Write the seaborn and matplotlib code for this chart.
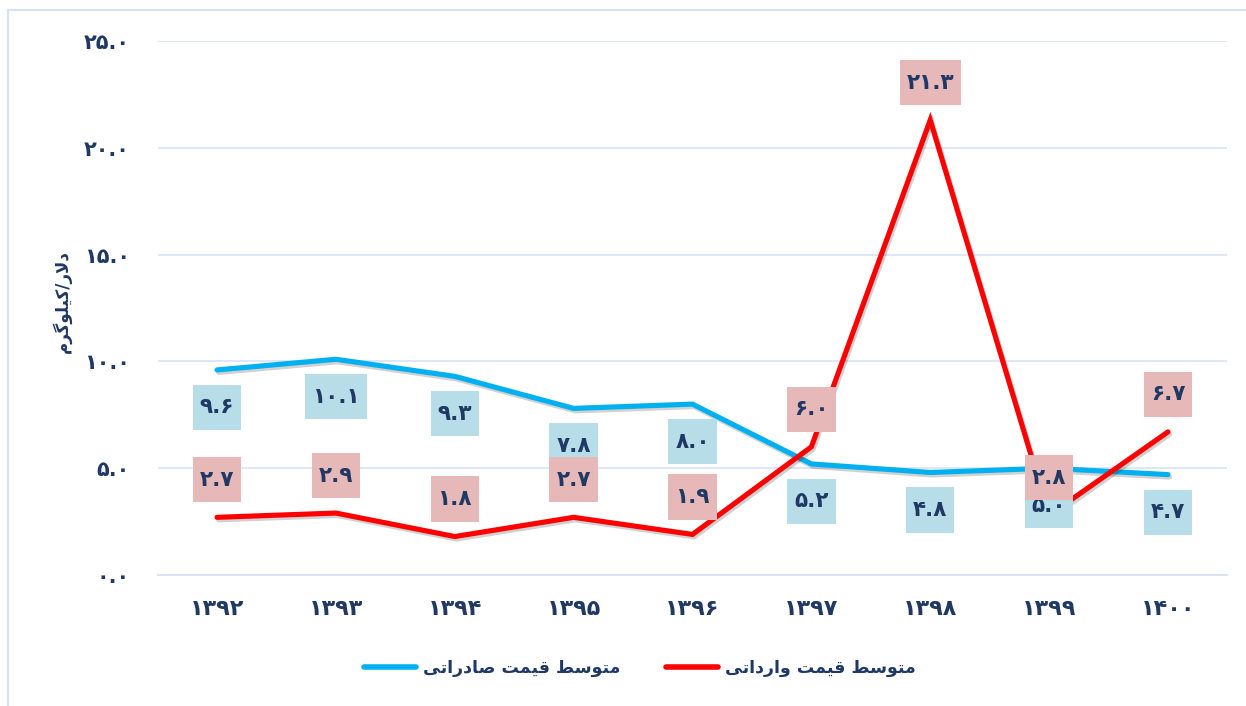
import matplotlib
matplotlib.use("Agg")
import matplotlib.pyplot as plt
import matplotlib.patheffects as pe
from matplotlib.lines import Line2D
from matplotlib.path import Path
import seaborn as sns
import pandas as pd

# ---- data ----
years = ["1392", "1393", "1394", "1395", "1396", "1397", "1398", "1399", "1400"]
export_price = [9.6, 10.1, 9.3, 7.8, 8.0, 5.2, 4.8, 5.0, 4.7]
import_price = [2.7, 2.9, 1.8, 2.7, 1.9, 6.0, 21.3, 2.8, 6.7]
export_name = "متوسط قیمت صادراتی"
import_name = "متوسط قیمت وارداتی"
y_title = "دلار/کیلوگرم"
y_ticks = [0, 5, 10, 15, 20, 25]

# ---- styling ----
NAVY = "#1F3864"
BLUE = "#00B0F0"
RED = "#FF0000"
BLUE_BOX = "#B7DDE8"
RED_BOX = "#E6B8B7"
GRID = "#D9E2F3"

FA_DIGITS = str.maketrans("0123456789", "۰۱۲۳۴۵۶۷۸۹")


def fa_num(s):
    return str(s).translate(FA_DIGITS)


# Persian letters -> (isolated, final, initial, medial) presentation forms
FORMS = {
    "ا": ("\uFE8D", "\uFE8E", None, None),
    "د": ("\uFEA9", "\uFEAA", None, None),
    "ر": ("\uFEAD", "\uFEAE", None, None),
    "و": ("\uFEED", "\uFEEE", None, None),
    "ت": ("\uFE95", "\uFE96", "\uFE97", "\uFE98"),
    "س": ("\uFEB1", "\uFEB2", "\uFEB3", "\uFEB4"),
    "ص": ("\uFEB9", "\uFEBA", "\uFEBB", "\uFEBC"),
    "ط": ("\uFEC1", "\uFEC2", "\uFEC3", "\uFEC4"),
    "ق": ("\uFED5", "\uFED6", "\uFED7", "\uFED8"),
    "ل": ("\uFEDD", "\uFEDE", "\uFEDF", "\uFEE0"),
    "م": ("\uFEE1", "\uFEE2", "\uFEE3", "\uFEE4"),
    "ک": ("\uFB8E", "\uFB8F", "\uFB90", "\uFB91"),
    "گ": ("\uFB92", "\uFB93", "\uFB94", "\uFB95"),
    "ی": ("\uFBFC", "\uFBFD", "\uFBFE", "\uFBFF"),
}


def _dual(c):
    return c in FORMS and FORMS[c][2] is not None


def rtl(text):
    """Join Persian letters into contextual forms and put them in visual order."""
    chars = list(text)
    out = []
    i, n = 0, len(chars)
    while i < n:
        c = chars[i]
        if c not in FORMS:
            out.append(c)
            i += 1
            continue
        prev = chars[i - 1] if i > 0 else None
        joins_prev = prev is not None and _dual(prev)
        if c == "ل" and i + 1 < n and chars[i + 1] == "ا":
            out.append("\uFEFC" if joins_prev else "\uFEFB")
            i += 2
            continue
        nxt = chars[i + 1] if i + 1 < n else None
        joins_next = _dual(c) and nxt in FORMS
        iso, fin, ini, med = FORMS[c]
        if joins_prev and joins_next:
            out.append(med)
        elif joins_prev:
            out.append(fin)
        elif joins_next:
            out.append(ini)
        else:
            out.append(iso)
        i += 1
    return "".join(reversed(out))


def label_box(x0, y0, width, height, mutation_size):
    """Rectangle around a value label: slim side padding, fixed tall height."""
    padx = 0.32 * mutation_size
    cy = y0 + height / 2
    half_h = 1.05 * mutation_size
    x1, x2 = x0 - padx, x0 + width + padx
    y1, y2 = cy - half_h, cy + half_h
    return Path([(x1, y1), (x2, y1), (x2, y2), (x1, y2), (x1, y1)], closed=True)


sns.set_theme(style="white")
plt.rcParams["font.family"] = ["DejaVu Sans"]
plt.rcParams["font.weight"] = "bold"

df = pd.DataFrame({
    "pos": list(range(len(years))) * 2,
    "value": export_price + import_price,
    "series": [export_name] * len(years) + [import_name] * len(years),
})

fig = plt.figure(figsize=(12.46, 7.06), dpi=100)
ax = fig.add_axes([157.6 / 1246, 1 - 575 / 706, (1227.4 - 157.6) / 1246, (575 - 41) / 706])

shadow = [pe.SimpleLineShadow(offset=(1.2, -1.8), shadow_color="#000000", alpha=0.18),
          pe.Normal()]

sns.lineplot(data=df, x="pos", y="value", hue="series",
             hue_order=[export_name, import_name],
             palette={export_name: BLUE, import_name: RED},
             linewidth=3.7, legend=False, sort=False, ax=ax)
for ln in ax.get_lines():
    ln.set_solid_capstyle("round")
    ln.set_solid_joinstyle("miter")
    ln.set_path_effects(shadow)

# value labels
for values, box, dy in ((export_price, BLUE_BOX, -27), (import_price, RED_BOX, 27)):
    for i, v in enumerate(values):
        ax.annotate(fa_num(f"{v:.1f}"), xy=(i, v), xytext=(0, dy),
                    textcoords="offset points", ha="center", va="center",
                    fontsize=15.5, fontweight="bold", color=NAVY, zorder=5,
                    bbox=dict(boxstyle=label_box, fc=box, ec="none"))

ax.set_xlim(-0.5, len(years) - 0.5)
ax.set_ylim(0, 25)
ax.set_yticks(y_ticks)
ax.set_yticklabels([fa_num(f"{t:.1f}") for t in y_ticks], fontsize=15,
                   fontweight="bold", color=NAVY)
ax.set_xticks(range(len(years)))
ax.set_xticklabels([fa_num(y) for y in years], fontsize=16, fontweight="bold", color=NAVY)
ax.set_xticks([k - 0.5 for k in range(len(years) + 1)], minor=True)
ax.tick_params(axis="x", which="major", length=0, pad=17)
ax.tick_params(axis="x", which="minor", length=5, width=1.2, color=GRID, direction="out")
ax.tick_params(axis="y", length=0, pad=20)
ax.set_xlabel("")
ax.set_ylabel("")

ax.grid(axis="y", color=GRID, linewidth=1.2)
ax.grid(axis="x", visible=False)
for side in ("left", "right", "top"):
    ax.spines[side].set_visible(False)
ax.spines["bottom"].set_color(GRID)
ax.spines["bottom"].set_linewidth(1.4)

fig.text(62 / 1246, 1 - 302 / 706, rtl(y_title), rotation=90, ha="center", va="center",
         fontsize=12, fontweight="bold", color=NAVY)

handles = [Line2D([], [], color=BLUE, lw=4, solid_capstyle="round"),
           Line2D([], [], color=RED, lw=4, solid_capstyle="round")]
leg = fig.legend(handles, [rtl(export_name), rtl(import_name)], ncol=2,
                 loc="center", bbox_to_anchor=(640 / 1246, 1 - 668 / 706),
                 frameon=False, handlelength=3.0, columnspacing=2.6, handletextpad=0.4,
                 prop={"size": 12.5, "weight": "bold"})
for t in leg.get_texts():
    t.set_color(NAVY)

# outer frame edges
fig.add_artist(Line2D([8 / 1246, 1], [1 - 10 / 706] * 2, transform=fig.transFigure,
                      color=GRID, lw=1.5))
fig.add_artist(Line2D([8 / 1246] * 2, [0, 1 - 10 / 706], transform=fig.transFigure,
                      color=GRID, lw=1.5))

fig.savefig("out.png", dpi=100)
